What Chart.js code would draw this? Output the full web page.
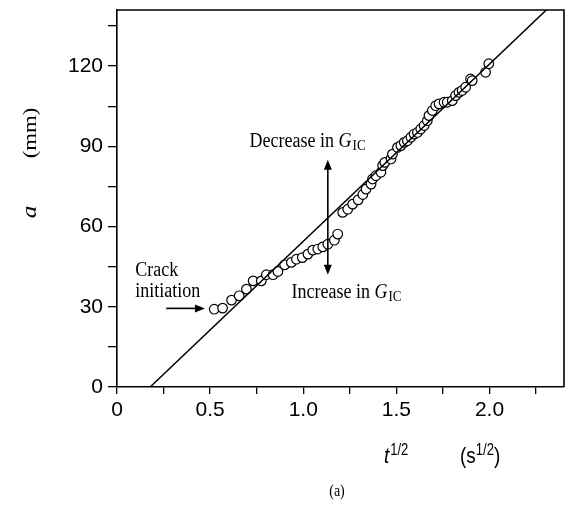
<!DOCTYPE html>
<html>
<head>
<meta charset="utf-8">
<script src="https://cdn.jsdelivr.net/npm/chart.js@4.4.0/dist/chart.umd.min.js"></script>
<style>
    html, body { margin: 0; padding: 0; background: #fff; }
    #wrap { width: 570px; height: 505px; position: relative; }
</style>
</head>
<body>
<div id="wrap"><canvas id="chart"></canvas></div>
<script>
// measured points: square root of time (s^1/2) vs crack length (mm)
const sqrtT = [0.522, 0.567, 0.615, 0.656, 0.695, 0.731, 0.775, 0.802, 0.838, 0.864,
    0.900, 0.936, 0.963, 0.995, 1.025, 1.051, 1.078, 1.105, 1.132, 1.167,
    1.185, 1.212, 1.239, 1.265, 1.295, 1.320, 1.337, 1.364, 1.372, 1.390,
    1.417, 1.426, 1.438, 1.471, 1.479, 1.506, 1.524, 1.542, 1.559, 1.578,
    1.595, 1.613, 1.631, 1.649, 1.666, 1.675, 1.693, 1.711, 1.729, 1.756,
    1.773, 1.800, 1.818, 1.836, 1.853, 1.872, 1.898, 1.907, 1.979, 1.996];
const crackLen = [29.1, 29.5, 32.5, 34.1, 36.6, 39.7, 39.7, 42.0, 42.0, 43.2,
    45.7, 46.6, 47.8, 48.4, 49.7, 51.2, 51.6, 52.4, 53.4, 54.9,
    57.2, 65.3, 66.5, 68.4, 70.0, 72.0, 74.0, 75.9, 77.8, 79.0,
    80.3, 82.8, 84.0, 85.3, 87.1, 89.6, 90.3, 91.5, 92.1, 93.4,
    94.6, 95.2, 96.5, 97.8, 99.6, 101.5, 103.4, 105.2, 105.9, 106.5,
    106.5, 107.1, 109.0, 110.2, 110.9, 112.1, 115.2, 114.6, 117.7, 120.9];

// straight fit line
const fitT = [0.178, 2.4];
const fitA = [0, 147.3];

// ticks (labels only on the major ones)
const xTickValues = [0, 0.25, 0.5, 0.75, 1.0, 1.25, 1.5, 1.75, 2.0, 2.25];
const xTickLabels = ['0', '', '0.5', '', '1.0', '', '1.5', '', '2.0', ''];
const yTickValues = [0, 15, 30, 45, 60, 75, 90, 105, 120, 135];
const yTickLabels = ['0', '', '30', '', '60', '', '90', '', '120', ''];

const SERIF = '"Liberation Serif", "Times New Roman", serif';
const SANS = '"Liberation Sans", Arial, Helvetica, sans-serif';
const STRETCH = 1.2; // the scan is a bit taller than wide

const points = sqrtT.map((t, i) => ({ x: t, y: crackLen[i] }));
const fitLine = fitT.map((t, i) => ({ x: t, y: fitA[i] }));

// draws text with the vertical stretch, returns width
function txt(ctx, s, x, y, font, align) {
    ctx.save();
    ctx.translate(x, y);
    ctx.scale(1, STRETCH);
    ctx.font = font;
    ctx.textAlign = align || 'left';
    ctx.textBaseline = 'alphabetic';
    ctx.fillStyle = '#000';
    ctx.fillText(s, 0, 0);
    const w = ctx.measureText(s).width;
    ctx.restore();
    return w;
}

function arrowHead(ctx, x, y, dx, dy) {
    // tip at (x, y), pointing along (dx, dy)
    const len = 10, half = 4;
    const px = -dy, py = dx;
    ctx.beginPath();
    ctx.moveTo(x, y);
    ctx.lineTo(x - dx * len + px * half, y - dy * len + py * half);
    ctx.lineTo(x - dx * len - px * half, y - dy * len - py * half);
    ctx.closePath();
    ctx.fill();
}

const annotations = {
    id: 'annotations',
    afterDraw(chart) {
        const ctx = chart.ctx;
        const xs = chart.scales.x, ys = chart.scales.y;
        const area = chart.chartArea;
        const px = v => xs.getPixelForValue(v);
        const py = v => ys.getPixelForValue(v);

        // frame top and right
        ctx.save();
        ctx.strokeStyle = '#000';
        ctx.lineWidth = 1.6;
        ctx.beginPath();
        ctx.moveTo(area.left, area.top);
        ctx.lineTo(area.right, area.top);
        ctx.lineTo(area.right, area.bottom);
        ctx.stroke();

        ctx.fillStyle = '#000';
        ctx.lineWidth = 1.6;

        // vertical double arrow
        const ax = px(1.132);
        const yTop = py(85), yBot = py(42);
        ctx.beginPath();
        ctx.moveTo(ax, yTop + 8);
        ctx.lineTo(ax, yBot - 8);
        ctx.stroke();
        arrowHead(ctx, ax, yTop, 0, -1);
        arrowHead(ctx, ax, yBot, 0, 1);

        // crack initiation arrow
        const cy = py(29.4);
        ctx.beginPath();
        ctx.moveTo(px(0.264), cy);
        ctx.lineTo(px(0.472) - 8, cy);
        ctx.stroke();
        arrowHead(ctx, px(0.472), cy, 1, 0);

        // Decrease in G_IC
        let x0 = px(0.712), y0 = py(89.8);
        x0 += txt(ctx, 'Decrease in ', x0, y0, '18px ' + SERIF);
        x0 += txt(ctx, 'G', x0, y0, 'italic 18px ' + SERIF);
        txt(ctx, 'IC', x0 + 1, y0 + 3, '13px ' + SERIF);

        // Increase in G_IC
        x0 = px(0.937); y0 = py(33.3);
        x0 += txt(ctx, 'Increase in ', x0, y0, '18px ' + SERIF);
        x0 += txt(ctx, 'G', x0, y0, 'italic 18px ' + SERIF);
        txt(ctx, 'IC', x0 + 1, y0 + 3, '13px ' + SERIF);

        // Crack initiation
        txt(ctx, 'Crack', px(0.098), py(41.6), '18px ' + SERIF);
        txt(ctx, 'initiation', px(0.098), py(33.7), '18px ' + SERIF);

        // y title, rotated
        ctx.save();
        ctx.translate(36, 212);
        ctx.scale(1, STRETCH);
        ctx.rotate(-Math.PI / 2);
        ctx.font = 'italic 21px ' + SERIF;
        ctx.textAlign = 'center';
        ctx.fillText('a', 0, 0);
        ctx.restore();
        ctx.save();
        ctx.translate(36, 133);
        ctx.scale(1, STRETCH);
        ctx.rotate(-Math.PI / 2);
        ctx.font = '19px ' + SERIF;
        ctx.textAlign = 'center';
        ctx.fillText('(mm)', 0, 0);
        ctx.restore();

        // x title
        let tx = 384, ty = 463;
        tx += txt(ctx, 't', tx, ty, 'italic 19px ' + SANS);
        txt(ctx, '1/2', tx + 1, ty - 8, '13px ' + SANS);
        tx = 460;
        tx += txt(ctx, '(s', tx, ty, '19px ' + SANS);
        tx += txt(ctx, '1/2', tx, ty - 8, '13px ' + SANS);
        txt(ctx, ')', tx, ty, '19px ' + SANS);

        // panel label
        txt(ctx, '(a)', 337, 496, '14px ' + SERIF, 'center');
        ctx.restore();
    }
};

new Chart(document.getElementById('chart'), {
    type: 'scatter',
    data: {
        datasets: [
            {
                type: 'line',
                data: fitLine,
                borderColor: '#000',
                borderWidth: 1.5,
                pointRadius: 0,
                fill: false,
                order: 0
            },
            {
                data: points,
                pointStyle: 'circle',
                pointRadius: 4.8,
                borderWidth: 1.2,
                borderColor: '#000',
                backgroundColor: '#fff',
                order: 1
            }
        ]
    },
    options: {
        responsive: true,
        maintainAspectRatio: false,
        animation: false,
        events: [],
        layout: { padding: { top: 10, right: 4, left: 0, bottom: 0 } },
        plugins: {
            legend: { display: false },
            tooltip: { enabled: false }
        },
        scales: {
            x: {
                type: 'linear',
                min: 0,
                max: 2.4,
                afterBuildTicks: s => { s.ticks = xTickValues.map(v => ({ value: v })); },
                afterFit: s => {
                    s.height = 118;
                    s.paddingLeft = 0;
                    s.paddingRight = 0;
                },
                ticks: {
                    autoSkip: false,
                    maxRotation: 0,
                    padding: 4,
                    color: '#000',
                    font: { family: SANS, size: 21 },
                    callback: (v, i) => xTickLabels[i]
                },
                grid: {
                    drawOnChartArea: false,
                    drawTicks: true,
                    tickLength: 7,
                    color: '#000',
                    lineWidth: 1.3
                },
                border: { display: true, color: '#000', width: 1.6 }
            },
            y: {
                type: 'linear',
                min: 0,
                max: 141,
                afterBuildTicks: s => { s.ticks = yTickValues.map(v => ({ value: v })); },
                afterFit: s => {
                    s.width = 117;
                    s.paddingTop = 0;
                    s.paddingBottom = 0;
                },
                ticks: {
                    autoSkip: false,
                    padding: 5,
                    color: '#000',
                    font: { family: SANS, size: 21 },
                    callback: (v, i) => yTickLabels[i]
                },
                grid: {
                    drawOnChartArea: false,
                    drawTicks: true,
                    tickLength: 9,
                    color: '#000',
                    lineWidth: 1.3
                },
                border: { display: true, color: '#000', width: 1.6 }
            }
        }
    },
    plugins: [annotations]
});
</script>
</body>
</html>
